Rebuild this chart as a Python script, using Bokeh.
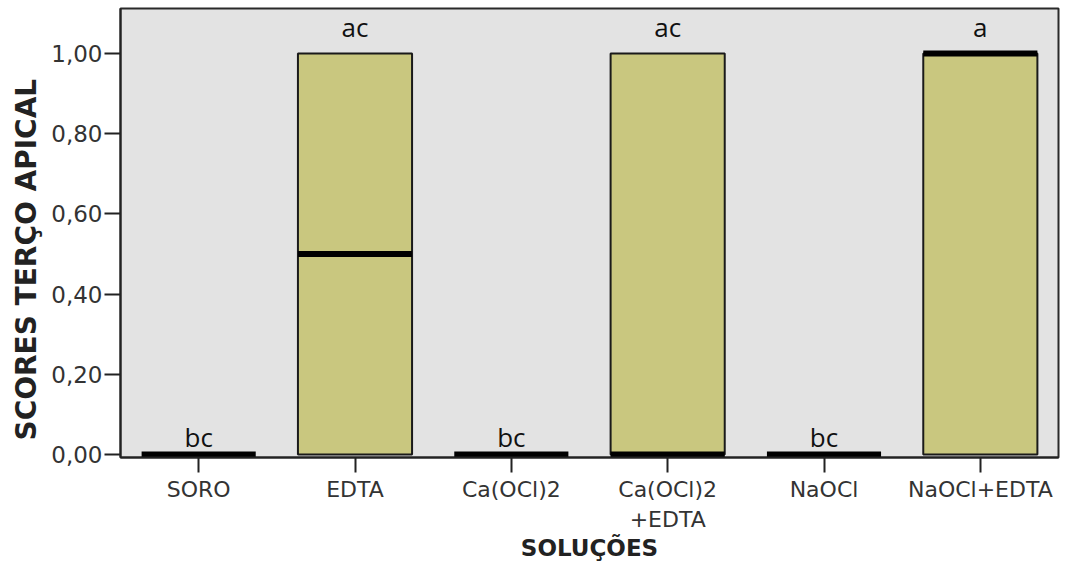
from bokeh.plotting import figure
from bokeh.models import ColumnDataSource, Range1d, FactorRange, FixedTicker, CustomJSTickFormatter, Title
from bokeh.embed import file_html
from bokeh.resources import INLINE
from bokeh.core.properties import value

# ---- data ----
categories = ["SORO", "EDTA", "Ca(OCl)2", "Ca(OCl)2\n+EDTA", "NaOCl", "NaOCl+EDTA"]
q1 = [0.0, 0.0, 0.0, 0.0, 0.0, 0.0]
median = [0.0, 0.5, 0.0, 0.0, 0.0, 1.0]
q3 = [0.0, 1.0, 0.0, 1.0, 0.0, 1.0]
letters = ["bc", "ac", "bc", "ac", "bc", "a"]
y_ticks = [0.0, 0.2, 0.4, 0.6, 0.8, 1.0]
y_title = "SCORES TERÇO APICAL"
x_title = "SOLUÇÕES"

BOX_W = 0.73

p = figure(
    width=1066, height=563,
    x_range=FactorRange(factors=categories, range_padding=0),
    y_range=Range1d(-0.0075, 1.112),
    output_backend="svg", toolbar_location=None,
    min_border_left=120, min_border_right=8, min_border_top=8, min_border_bottom=106,
)

p.background_fill_color = "#e3e3e3"
p.border_fill_color = "white"
p.outline_line_color = "#2a2a2a"
p.outline_line_width = 2
p.xgrid.visible = False
p.ygrid.visible = False

# boxes (only where there is a spread)
box_idx = [i for i in range(len(categories)) if q3[i] > q1[i]]
box_src = ColumnDataSource(dict(
    cat=[categories[i] for i in box_idx],
    q1=[q1[i] for i in box_idx],
    q3=[q3[i] for i in box_idx],
))
p.vbar(x="cat", bottom="q1", top="q3", width=BOX_W, source=box_src,
       fill_color="#c9c77f", line_color="#1a1a1a", line_width=2)

# medians
p.rect(x=categories, y=median, width=BOX_W, height=6, height_units="screen",
       fill_color="black", line_color=None)

# significance letters
offs = [-26 if t > 0 else -17 for t in q3]
p.text(x=categories, y=q3, text=letters, y_offset=offs,
       text_align="center", text_baseline="alphabetic",
       text_font=value("Open Sans"), text_font_size="26px", text_color="#111111")

# y axis
ya = p.yaxis[0]
ya.ticker = FixedTicker(ticks=y_ticks)
ya.formatter = CustomJSTickFormatter(code="return tick.toFixed(2).replace('.', ',');")
ya.major_tick_out = 16
ya.major_tick_in = 0
ya.minor_tick_out = 0
ya.minor_tick_in = 0
ya.major_tick_line_width = 2
ya.major_tick_line_color = "#222222"
ya.axis_line_width = 2
ya.axis_line_color = "#222222"
ya.major_label_text_font = "DejaVu Sans"
ya.major_label_text_font_size = "23px"
ya.major_label_text_color = "#333333"
ya.major_label_standoff = 2

# y title as a left-side title, started a little above the frame bottom
p.add_layout(Title(
    text=y_title, align="left", offset=17, standoff=8, vertical_align="top",
    text_font="DejaVu Sans", text_font_style="bold", text_font_size="28px",
    text_color="#222222",
), "left")

# x axis
xa = p.xaxis[0]
xa.major_tick_out = 15
xa.major_tick_in = 0
xa.major_tick_line_width = 2
xa.major_tick_line_color = "#222222"
xa.axis_line_width = 2
xa.axis_line_color = "#222222"
xa.major_label_text_font = "DejaVu Sans"
xa.major_label_text_font_size = "22px"
xa.major_label_text_color = "#333333"
xa.major_label_standoff = 4
xa.axis_label = x_title
xa.axis_label_text_font = "DejaVu Sans"
xa.axis_label_text_font_style = "bold"
xa.axis_label_text_font_size = "23px"
xa.axis_label_text_color = "#222222"
xa.axis_label_standoff = 0

open("out.html", "w").write(file_html(p, INLINE))
